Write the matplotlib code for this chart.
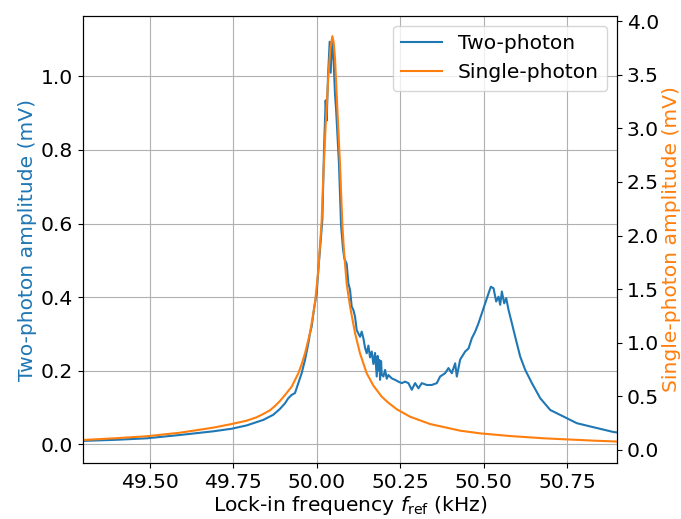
import matplotlib
matplotlib.use("Agg")
import matplotlib.pyplot as plt
from matplotlib.ticker import MultipleLocator, FormatStrFormatter

# Two-photon signal (left axis, mV)
two_freq = [49.300, 49.400, 49.491, 49.590, 49.690, 49.745, 49.790, 49.840, 49.870,
            49.890, 49.905, 49.915, 49.925, 49.935, 49.945, 49.955, 49.965, 49.975,
            49.980, 49.985, 49.993, 50.000, 50.005, 50.013, 50.017, 50.022, 50.027,
            50.030, 50.034, 50.039, 50.042, 50.046, 50.051, 50.055, 50.058, 50.067,
            50.073, 50.079, 50.083, 50.090, 50.095, 50.100, 50.105, 50.110, 50.115,
            50.120, 50.130, 50.135, 50.140, 50.145, 50.150, 50.155, 50.160, 50.165,
            50.170, 50.175, 50.180, 50.183, 50.185, 50.188, 50.190, 50.193, 50.195,
            50.200, 50.205, 50.210, 50.215, 50.225, 50.235, 50.245,
            50.255, 50.265, 50.275, 50.285, 50.295, 50.305, 50.315, 50.330, 50.345,
            50.360, 50.370, 50.385, 50.395, 50.405, 50.415, 50.420, 50.430, 50.445,
            50.455, 50.465, 50.475, 50.485, 50.495, 50.505, 50.515, 50.522, 50.530,
            50.538, 50.545, 50.550, 50.555, 50.562, 50.568, 50.575, 50.585, 50.595,
            50.610, 50.625, 50.645, 50.670, 50.700, 50.740, 50.780, 50.830, 50.890,
            50.900]
two_amp = [0.009, 0.012, 0.016, 0.025, 0.035, 0.042, 0.051, 0.066, 0.080,
           0.096, 0.111, 0.125, 0.134, 0.139, 0.166, 0.193, 0.229, 0.274,
           0.302, 0.320, 0.374, 0.410, 0.474, 0.564, 0.610, 0.800, 0.935,
           0.880, 1.000, 1.094, 1.010, 1.102, 1.040, 0.950, 0.914, 0.760,
           0.596, 0.530, 0.505, 0.490, 0.437, 0.420, 0.374, 0.365, 0.347,
           0.310, 0.292, 0.306, 0.288, 0.262, 0.247, 0.268, 0.236, 0.252,
           0.218, 0.248, 0.184, 0.240, 0.200, 0.229, 0.175, 0.226, 0.190,
           0.184, 0.202, 0.178, 0.188, 0.179, 0.175, 0.170,
           0.166, 0.170, 0.166, 0.148, 0.166, 0.152, 0.166, 0.161, 0.161,
           0.166, 0.184, 0.193, 0.207, 0.193, 0.220, 0.184, 0.230, 0.252,
           0.260, 0.288, 0.306, 0.329, 0.356, 0.383, 0.410, 0.428, 0.424,
           0.388, 0.401, 0.379, 0.415, 0.383, 0.397, 0.365, 0.329, 0.292,
           0.238, 0.202, 0.166, 0.125, 0.093, 0.075, 0.057, 0.046, 0.033,
           0.032]

# Single-photon signal (right axis, mV)
one_freq = [49.300, 49.400, 49.491, 49.590, 49.690, 49.745, 49.790, 49.820, 49.840,
            49.860, 49.875, 49.890, 49.905, 49.925, 49.945, 49.955, 49.965, 49.980,
            49.995, 50.005, 50.015, 50.020, 50.027, 50.035, 50.041, 50.047, 50.051,
            50.055, 50.062, 50.070, 50.077, 50.082, 50.090, 50.100, 50.115, 50.130,
            50.150, 50.170, 50.195, 50.215, 50.240, 50.280, 50.340, 50.430, 50.490,
            50.580, 50.680, 50.740, 50.790, 50.830, 50.890, 50.900]
one_amp = [0.093, 0.110, 0.128, 0.161, 0.208, 0.242, 0.273, 0.305, 0.336,
           0.370, 0.410, 0.457, 0.512, 0.590, 0.715, 0.800, 0.900, 1.090,
           1.370, 1.680, 2.140, 2.560, 3.030, 3.490, 3.740, 3.860, 3.800,
           3.650, 3.180, 2.660, 2.100, 1.850, 1.550, 1.340, 1.090, 0.900,
           0.715, 0.600, 0.497, 0.440, 0.380, 0.310, 0.242, 0.180, 0.155,
           0.130, 0.109, 0.100, 0.093, 0.087, 0.080, 0.078]

plt.rcParams['font.size'] = 14.6

fig, ax = plt.subplots(figsize=(6.81, 5.19), dpi=100)
fig.subplots_adjust(left=0.122, right=0.906, top=0.969, bottom=0.108)

line1, = ax.plot(two_freq, two_amp, color='#1f77b4', label='Two-photon')
ax.set_xlim(49.3, 50.9)
ax.set_ylim(-0.051, 1.164)
ax.xaxis.set_major_locator(MultipleLocator(0.25))
ax.xaxis.set_major_formatter(FormatStrFormatter('%.2f'))
ax.yaxis.set_major_locator(MultipleLocator(0.2))
ax.grid(True)
ax.set_xlabel(r'Lock-in frequency $f_\mathrm{ref}$ (kHz)', labelpad=2)
ax.set_ylabel('Two-photon amplitude (mV)', color='#1f77b4', labelpad=3)

ax2 = ax.twinx()
line2, = ax2.plot(one_freq, one_amp, color='#ff7f0e', label='Single-photon')
ax2.set_ylim(-0.121, 4.047)
ax2.yaxis.set_major_locator(MultipleLocator(0.5))
ax2.set_ylabel('Single-photon amplitude (mV)', color='#ff7f0e', labelpad=2)

ax2.legend(handles=[line1, line2], loc='upper right')

fig.savefig('out.png', dpi=100)
